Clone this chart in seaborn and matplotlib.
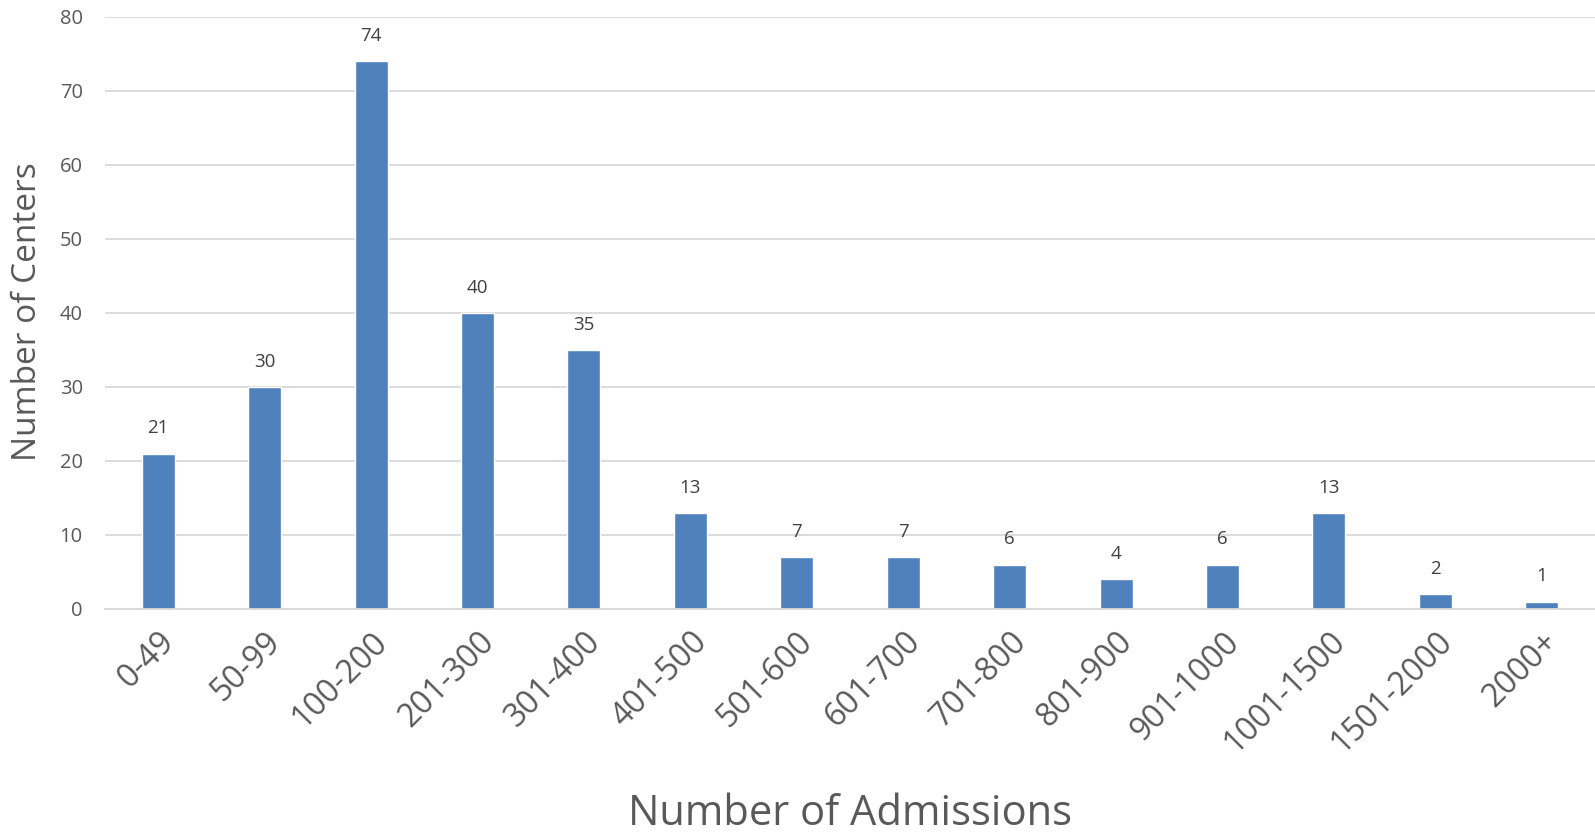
import matplotlib
matplotlib.use("Agg")
import matplotlib.pyplot as plt
import seaborn as sns
import pandas as pd

# data
categories = ["0-49", "50-99", "100-200", "201-300", "301-400", "401-500", "501-600",
              "601-700", "701-800", "801-900", "901-1000", "1001-1500", "1501-2000", "2000+"]
centers = [21, 30, 74, 40, 35, 13, 7, 7, 6, 4, 6, 13, 2, 1]
y_ticks = [0, 10, 20, 30, 40, 50, 60, 70, 80]

df = pd.DataFrame({"admissions": categories, "centers": centers})

sns.set_style("white")
plt.rcParams["font.family"] = ["Open Sans", "DejaVu Sans"]
text_color = "#595959"

fig = plt.figure(figsize=(15.95, 8.39), dpi=100)
ax = fig.add_axes([105 / 1595, 1 - 609 / 839, 1490 / 1595, (609 - 17) / 839])

sns.barplot(data=df, x="admissions", y="centers", color="#4F81BD", width=0.31,
            saturation=1, ax=ax)

# value labels above the bars
for i, v in enumerate(centers):
    ax.text(i, v + 2.2, str(v), ha="center", va="bottom", fontsize=13.5, color="#404040")

ax.set_ylim(0, 80)
ax.set_xlim(-0.5, len(categories) - 0.5)
ax.set_yticks(y_ticks)
ax.yaxis.grid(True, color="#D9D9D9", linewidth=1.3)
ax.set_axisbelow(True)
for side in ["top", "right", "left"]:
    ax.spines[side].set_visible(False)
ax.spines["bottom"].set_color("#D9D9D9")
ax.spines["bottom"].set_linewidth(1.3)

ax.tick_params(axis="y", labelsize=14.5, colors=text_color, length=0, pad=16)
ax.tick_params(axis="x", labelsize=23, colors=text_color, length=0, pad=12)
plt.setp(ax.get_xticklabels(), rotation=45, ha="right", rotation_mode="anchor")

ax.set_xlabel("")
ax.set_ylabel("")
fig.text(850 / 1595, 1 - 814 / 839, "Number of Admissions", ha="center", va="center",
         fontsize=30, color=text_color)
fig.text(28 / 1595, 1 - 312 / 839, "Number of Centers", ha="center", va="center",
         rotation=90, fontsize=24, color=text_color)

fig.savefig("out.png", dpi=100)
